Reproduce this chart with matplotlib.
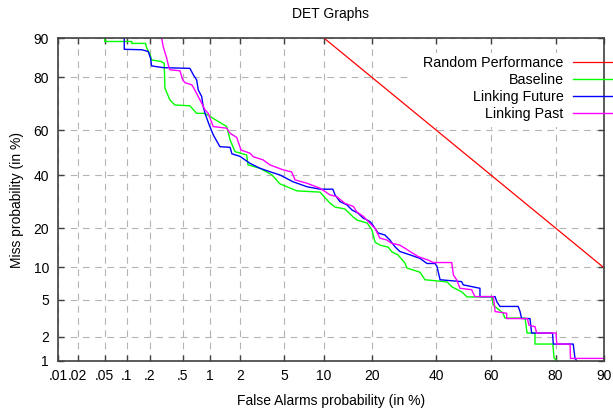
import math
import numpy as np
import matplotlib
matplotlib.use('Agg')
import matplotlib.pyplot as plt
from matplotlib.patches import Rectangle

plt.rcParams['font.family'] = ['Liberation Sans', 'DejaVu Sans']
plt.rcParams['font.size'] = 10

# axis ticks (in %)
fa_ticks = [0.01, 0.02, 0.05, 0.1, 0.2, 0.5, 1, 2, 5, 10, 20, 40, 60, 80, 90]
fa_labels = ['.01', '.02', '.05', '.1', '.2', '.5', '1', '2', '5', '10', '20', '40', '60', '80', '90']
miss_ticks = [1, 2, 5, 10, 20, 40, 60, 80, 90]
miss_labels = ['1', '2', '5', '10', '20', '40', '60', '80', '90']

# random performance line
random_fa = [10, 90]
random_miss = [90, 10]

# Baseline
baseline_fa = [0.05, 0.05, 0.117, 0.117, 0.177, 0.183, 0.201, 0.211, 0.276, 0.302,
               0.308, 0.354, 0.406, 0.604, 0.718, 0.885, 1.075, 1.49, 1.61, 1.80,
               2.33, 2.40, 3.09, 3.94, 4.60, 6.31, 9.38, 10.2, 11.0, 11.9,
               13.8, 15.5, 16.4, 18.8, 20.0, 20.8, 22.1, 24.4, 25.5, 27.3,
               29.5, 30.1, 34.4, 36.1, 43.9, 45.7, 49.3, 51.2, 60.2, 60.6,
               64.0, 64.7, 71.3, 71.9, 74.3, 74.3, 79.3, 79.6, 80.4]
baseline_miss = [90, 89.3, 89.3, 88.9, 88.9, 87.9, 86.5, 85.0, 84.6, 84.1,
                 76.5, 72.2, 70.3, 70.0, 67.0, 67.0, 65.0, 61.5, 55.7, 50.5,
                 49.0, 44.6, 43.1, 40.2, 36.4, 33.5, 33.0, 30.7, 28.7, 27.2,
                 26.5, 23.7, 22.6, 21.6, 19.4, 15.9, 15.1, 14.6, 13.4, 12.7,
                 10.9, 9.9, 9.1, 7.8, 7.45, 6.7, 6.0, 5.36, 5.36, 4.46,
                 3.67, 3.24, 3.24, 2.2, 2.2, 1.63, 1.63, 1.09, 1.0]

# Linking Future
future_fa = [0.093, 0.093, 0.158, 0.191, 0.205, 0.211, 0.294, 0.604, 0.659, 0.718,
             0.747, 0.815, 0.847, 0.885, 0.982, 1.084, 1.27, 1.61, 1.68, 2.01,
             2.50, 3.09, 3.78, 4.60, 5.87, 7.54, 9.38, 11.5, 11.9, 12.8,
             14.2, 15.3, 16.6, 17.8, 19.5, 20.2, 21.6, 23.5, 24.9, 26.4,
             27.9, 31.1, 34.4, 36.8, 39.6, 40.3, 41.4, 49.2, 49.8, 55.9,
             55.9, 61.3, 61.9, 63.0, 69.1, 69.7, 70.2, 72.8, 73.3, 79.2,
             79.4, 84.2, 84.6, 85.0]
future_miss = [90, 87.6, 87.5, 87.1, 85.4, 83.4, 82.9, 82.7, 80.8, 79.2,
               75.9, 73.5, 69.7, 67.0, 62.2, 57.9, 52.7, 52.4, 49.5, 48.4,
               45.3, 43.1, 41.6, 40.2, 37.3, 35.2, 34.2, 34.2, 31.9, 29.3,
               28.0, 26.1, 25.0, 23.3, 22.1, 21.0, 18.5, 17.9, 16.5, 14.7,
               13.5, 12.7, 11.9, 10.8, 10.8, 10.2, 7.8, 7.5, 7.0, 6.5,
               5.4, 5.4, 4.8, 4.3, 4.3, 3.8, 3.2, 3.2, 2.2, 2.2,
               1.63, 1.63, 1.08, 1.0]

# Linking Past
past_fa = [0.281, 0.294, 0.324, 0.338, 0.354, 0.465, 0.499, 0.531, 0.632, 0.659,
           0.747, 0.815, 0.885, 0.959, 1.084, 1.49, 1.61, 1.87, 2.06, 2.50,
           2.69, 3.30, 3.78, 4.90, 5.74, 6.09, 7.49, 9.38, 11.0, 12.2,
           13.8, 15.6, 16.3, 17.9, 19.5, 20.8, 22.1, 24.0, 25.4, 27.9,
           29.5, 31.1, 33.8, 37.3, 39.0, 45.6, 46.2, 47.4, 48.6, 52.9,
           53.5, 54.1, 60.7, 61.3, 65.3, 65.3, 72.0, 72.5, 74.3, 74.8,
           80.1, 80.3, 83.5, 83.6, 90.0]
past_miss = [90, 88.2, 85.4, 83.7, 82.3, 82.0, 79.2, 78.3, 77.6, 76.8,
             73.5, 71.0, 68.4, 67.0, 61.5, 60.8, 58.6, 56.8, 51.2, 49.8,
             48.2, 46.8, 44.6, 42.4, 41.5, 38.1, 36.7, 34.6, 31.9, 31.2,
             28.6, 27.4, 25.5, 23.8, 21.5, 19.9, 17.0, 16.5, 15.6, 15.1,
             14.3, 13.5, 12.3, 11.5, 11.0, 11.0, 8.6, 7.8, 6.5, 6.3,
             5.8, 5.4, 5.4, 3.8, 3.65, 3.2, 3.2, 2.7, 2.6, 2.2,
             2.2, 1.63, 1.63, 1.08, 1.08]

# normal deviate scale (no scipy): Acklam's approximation of the inverse cdf
A = [-3.969683028665376e+01, 2.209460984245205e+02, -2.759285104469687e+02,
     1.383577518672690e+02, -3.066479806614716e+01, 2.506628277459239e+00]
B = [-5.447609879822406e+01, 1.615858368580409e+02, -1.556989798598866e+02,
     6.680131188771972e+01, -1.328068155288572e+01]
C = [-7.784894002430293e-03, -3.223964580411365e-01, -2.400758277161838e+00,
     -2.549732539343734e+00, 4.374664141464968e+00, 2.938163982698783e+00]
D = [7.784695709041462e-03, 3.224671290700398e-01, 2.445134137142996e+00,
     3.754408661907416e+00]


def ppf(p):
    p = np.clip(np.asarray(p, dtype=float), 1e-12, 1 - 1e-12)
    q = np.minimum(p, 1 - p)
    t = np.sqrt(-2 * np.log(q))
    tail = ((((((C[0] * t + C[1]) * t + C[2]) * t + C[3]) * t + C[4]) * t + C[5])
            / ((((D[0] * t + D[1]) * t + D[2]) * t + D[3]) * t + 1))
    u = p - 0.5
    r = u * u
    central = ((((((A[0] * r + A[1]) * r + A[2]) * r + A[3]) * r + A[4]) * r + A[5]) * u
               / (((((B[0] * r + B[1]) * r + B[2]) * r + B[3]) * r + B[4]) * r + 1))
    return np.where(q < 0.02425, np.where(p < 0.5, tail, -tail), central)


_erf = np.frompyfunc(math.erf, 1, 1)


def cdf(z):
    z = np.asarray(z, dtype=float)
    return 0.5 * (1 + _erf(z / math.sqrt(2)).astype(float))


def forward(x):
    return ppf(np.asarray(x, dtype=float) / 100.0)


def inverse(z):
    return 100.0 * cdf(z)


fig = plt.figure(figsize=(6.13, 4.12), dpi=100)
ax = fig.add_axes([58 / 613, 51 / 412, 545.6 / 613, 323 / 412])
ax.set_xscale('function', functions=(forward, inverse))
ax.set_yscale('function', functions=(forward, inverse))
ax.set_xlim(0.01, 90)
ax.set_ylim(1, 90)

ax.set_axisbelow(True)
ax.grid(True, color='#b4b4b4', linestyle=(0, (6, 5)), linewidth=0.8)
# key area hides the grid behind it
ax.add_patch(Rectangle((0.649, 0.724), 0.351, 0.23, transform=ax.transAxes,
                       facecolor='white', edgecolor='none', zorder=0.8))

ax.plot(random_fa, random_miss, color='#ff0000', lw=0.9, label='Random Performance', zorder=2)
ax.plot(baseline_fa, baseline_miss, color='#00ff00', lw=1.0, label='Baseline', zorder=2)
ax.plot(future_fa, future_miss, color='#0000ff', lw=1.0, label='Linking Future', zorder=2)
ax.plot(past_fa, past_miss, color='#ff00ff', lw=1.0, label='Linking Past', zorder=2)

ax.set_xticks(fa_ticks, fa_labels)
ax.set_yticks(miss_ticks, miss_labels)
ax.minorticks_off()
ax.tick_params(direction='in', top=True, right=True, length=4, width=1,
               color='#404040', labelsize=10)
ax.tick_params(axis='x', pad=6)
ax.tick_params(axis='y', pad=6.5)
for s in ax.spines.values():
    s.set_color('#404040')
    s.set_linewidth(1.2)

ax.set_title('DET Graphs', fontsize=10, pad=14.5)
ax.set_xlabel('False Alarms probability (in %)')
ax.set_ylabel('Miss probability (in %)')
ax.xaxis.set_label_coords(0.5, -0.103)
ax.yaxis.set_label_coords(-0.062, 0.5)

ax.legend(loc='upper right', bbox_to_anchor=(1.0, (412 - 56) / 412),
          bbox_transform=fig.transFigure, frameon=False, markerfirst=False,
          handlelength=2.8, handletextpad=0.65, labelspacing=0.22,
          borderpad=0, borderaxespad=0, fontsize=10.3)

fig.savefig('out.png', dpi=100)
